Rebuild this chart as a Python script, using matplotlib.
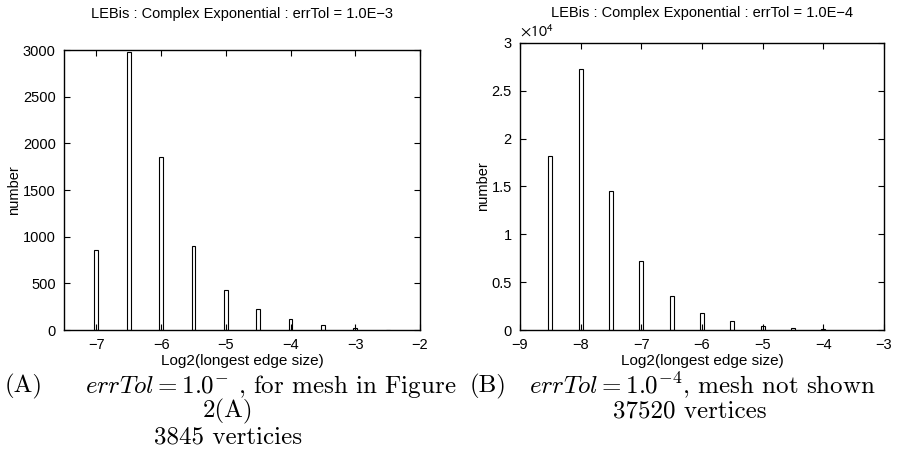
#! /usr/bin/env python3

'''
histograms of log2(longest edge size) for two error tolerances
'''

import numpy as np
import matplotlib.pyplot as plt
from matplotlib.ticker import FuncFormatter

# bin centres and element counts for errTol = 1.0E-3
edge_a = [-7.0, -6.5, -6.0, -5.5, -5.0, -4.5, -4.0, -3.5, -3.0, -2.5]
count_a = [860, 2980, 1850, 900, 430, 220, 120, 55, 25, 5]

# bin centres and element counts for errTol = 1.0E-4
edge_b = [-8.5, -8.0, -7.5, -7.0, -6.5, -6.0, -5.5, -5.0, -4.5, -4.0]
count_b = [18200, 27300, 14500, 7200, 3600, 1800, 900, 400, 200, 100]

plt.rcParams['font.family'] = ['Liberation Sans', 'DejaVu Sans']
plt.rcParams['mathtext.fontset'] = 'cm'

W, H = 899, 472
fig = plt.figure(figsize=(W / 100, H / 100), dpi=100)

def box(x0, y0, x1, y1):
    # pixel box (top-left origin) -> figure fraction rect
    return [x0 / W, 1 - y1 / H, (x1 - x0) / W, (y1 - y0) / H]

ax1 = fig.add_axes(box(64, 50, 420, 330))
ax2 = fig.add_axes(box(520, 43, 884, 330))

def style(ax):
    ax.tick_params(direction='in', top=True, right=True, length=4,
                   width=0.8, labelsize=10.5, pad=6)
    for s in ax.spines.values():
        s.set_linewidth(1.0)
    ax.set_xlabel('Log2(longest edge size)', fontsize=11, labelpad=1)
    ax.set_ylabel('number', fontsize=10.5, labelpad=1)

ax1.bar(edge_a, count_a, width=0.06, facecolor='white', edgecolor='black', linewidth=0.8)
ax1.set_xlim(-7.5, -2)
ax1.set_ylim(0, 3000)
ax1.set_xticks(np.arange(-7, -1, 1))
ax1.set_yticks(np.arange(0, 3001, 500))
ax1.set_xticklabels(['\u22127', '\u22126', '\u22125', '\u22124', '\u22123', '\u22122'])
style(ax1)
ax1.set_title('LEBis : Complex Exponential : errTol = 1.0E\u22123', fontsize=10.5, pad=23)

ax2.bar(edge_b, count_b, width=0.065, facecolor='white', edgecolor='black', linewidth=0.8)
ax2.set_xlim(-9, -3)
ax2.set_ylim(0, 30000)
ax2.set_xticks(np.arange(-9, -2, 1))
ax2.set_yticks(np.arange(0, 30001, 5000))
ax2.yaxis.set_major_formatter(FuncFormatter(lambda v, pos: '%g' % (v / 1e4)))
style(ax2)
ax2.text(0.0, 1.012, r'$\times10^{4}$', transform=ax2.transAxes, fontsize=11.5,
         ha='left', va='bottom', math_fontfamily='stixsans')
ax2.set_title('LEBis : Complex Exponential : errTol = 1.0E\u22124', fontsize=10.5, pad=19)

# captions under each panel
cap = dict(fontsize=18, family='cmr10', va='center')
fig.text(5 / W, 1 - 386 / H, '(A)', **cap)
fig.text(85 / W, 1 - 386 / H, r'$errTol = 1.0^{-}$ , for mesh in Figure', **cap)
fig.text(228 / W, 1 - 411 / H, '2(A)', ha='center', **cap)
fig.text(228 / W, 1 - 437 / H, '3845 verticies', ha='center', **cap)
fig.text(470 / W, 1 - 386 / H, '(B)', **cap)
fig.text(529 / W, 1 - 386 / H, r'$errTol = 1.0^{-4}$, mesh not shown', **cap)
fig.text(690 / W, 1 - 411 / H, '37520 vertices', ha='center', **cap)

plt.savefig('out.png', dpi=100)
